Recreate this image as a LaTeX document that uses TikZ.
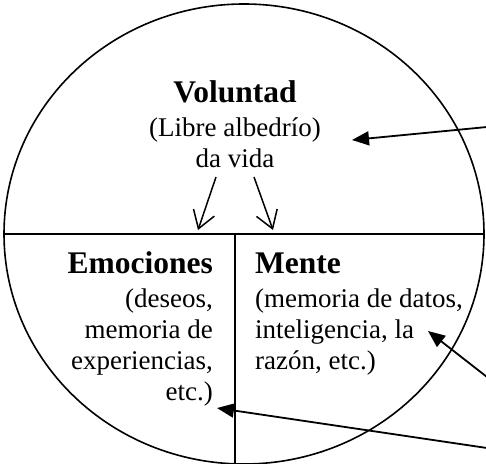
\documentclass[tikz,border=0pt]{standalone}
\usepackage{fontspec}
\setmainfont{Liberation Serif}
\usetikzlibrary{arrows.meta}
\tikzset{
  outline/.style={line width=1.6pt},
  title/.style={inner sep=0pt, font=\fontsize{31.5}{36}\selectfont\bfseries},
  body/.style={inner sep=0pt, font=\fontsize{27}{31}\selectfont},
  openarrow/.style={line width=1.5pt, -{Straight Barb[length=17pt,width=22pt,line width=1.5pt]}},
  solidarrow/.style={line width=1.8pt, -{Triangle[length=17pt,width=14pt]}}
}
\begin{document}
\begin{tikzpicture}[x=1pt,y=-1pt]
\useasboundingbox (0,0) rectangle (486,463);
\clip (0,0) rectangle (486,463);
% outline
\draw[outline] (244,234) ellipse [x radius=240, y radius=230];
\draw[outline] (4,234) -- (484,234);
\draw[outline] (235,234) -- (235,470);
% Voluntad
\node[title, anchor=base] (vol) at (235,102) {Voluntad};
\node[body, anchor=base] (lib) at (235,136) {(Libre albedrío)};
\node[body, anchor=base] (dav) at (235,167) {da vida};
% Emociones
\node[title, anchor=base east] (emo) at (213,273) {Emociones};
\node[body, anchor=base east] (emo1) at (213,307) {(deseos,};
\node[body, anchor=base east] (emo2) at (213,338) {memoria de};
\node[body, anchor=base east] (emo3) at (213,369) {experiencias,};
\node[body, anchor=base east] (emo4) at (213,400) {etc.)};
% Mente
\node[title, anchor=base west] (men) at (255,273) {Mente};
\node[body, anchor=base west] (men1) at (255,307) {(memoria de datos,};
\node[body, anchor=base west] (men2) at (255,338) {inteligencia, la};
\node[body, anchor=base west] (men3) at (255,369) {razón, etc.)};
% arrow coordinates
\coordinate (a1s) at (216,177);
\coordinate (a1e) at (198,230);
\coordinate (a2s) at (254,177);
\coordinate (a2e) at (273,230);
\coordinate (r1s) at (487,127);
\coordinate (r1e) at (352,140);
\coordinate (r2s) at (487,377);
\coordinate (r2e) at (428,331);
\coordinate (r3s) at (487,448);
\coordinate (r3e) at (217,408);
\draw[openarrow] (a1s) -- (a1e);
\draw[openarrow] (a2s) -- (a2e);
\draw[solidarrow] (r1s) -- (r1e);
\draw[solidarrow] (r2s) -- (r2e);
\draw[solidarrow] (r3s) -- (r3e);
\end{tikzpicture}
\end{document}
